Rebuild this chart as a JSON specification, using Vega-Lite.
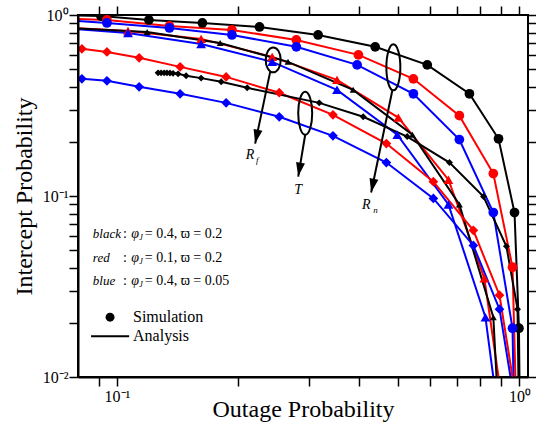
{
  "$schema": "https://vega.github.io/schema/vega-lite/v6.json",
  "width": 450,
  "height": 362,
  "autosize": {"type": "none"},
  "padding": {"left": 78, "top": 15, "right": 8, "bottom": 49},
  "background": "white",
  "config": {"view": {"stroke": "black", "strokeWidth": 2}},
  "datasets": {
    "curves": [
      {"s": "bc", "c": "black", "m": "circle", "sim": 0, "x": 0.08, "y": 0.995},
      {"s": "bc", "c": "black", "m": "circle", "sim": 1, "x": 0.0912, "y": 0.987},
      {"s": "bc", "c": "black", "m": "circle", "sim": 1, "x": 0.120, "y": 0.939},
      {"s": "bc", "c": "black", "m": "circle", "sim": 1, "x": 0.163, "y": 0.904},
      {"s": "bc", "c": "black", "m": "circle", "sim": 1, "x": 0.226, "y": 0.859},
      {"s": "bc", "c": "black", "m": "circle", "sim": 1, "x": 0.316, "y": 0.776},
      {"s": "bc", "c": "black", "m": "circle", "sim": 1, "x": 0.438, "y": 0.667},
      {"s": "bc", "c": "black", "m": "circle", "sim": 1, "x": 0.590, "y": 0.530},
      {"s": "bc", "c": "black", "m": "circle", "sim": 1, "x": 0.751, "y": 0.367},
      {"s": "bc", "c": "black", "m": "circle", "sim": 1, "x": 0.887, "y": 0.207},
      {"s": "bc", "c": "black", "m": "circle", "sim": 1, "x": 0.972, "y": 0.081},
      {"s": "bc", "c": "black", "m": "circle", "sim": 1, "x": 0.997, "y": 0.0186},
      {"s": "bc", "c": "black", "m": "circle", "sim": 0, "x": 1.0, "y": 0.01},

      {"s": "rc", "c": "red", "m": "circle", "sim": 0, "x": 0.08, "y": 0.950},
      {"s": "rc", "c": "red", "m": "circle", "sim": 1, "x": 0.0944, "y": 0.939},
      {"s": "rc", "c": "red", "m": "circle", "sim": 1, "x": 0.135, "y": 0.870},
      {"s": "rc", "c": "red", "m": "circle", "sim": 1, "x": 0.193, "y": 0.827},
      {"s": "rc", "c": "red", "m": "circle", "sim": 1, "x": 0.279, "y": 0.728},
      {"s": "rc", "c": "red", "m": "circle", "sim": 1, "x": 0.398, "y": 0.602},
      {"s": "rc", "c": "red", "m": "circle", "sim": 1, "x": 0.545, "y": 0.444},
      {"s": "rc", "c": "red", "m": "circle", "sim": 1, "x": 0.709, "y": 0.278},
      {"s": "rc", "c": "red", "m": "circle", "sim": 1, "x": 0.861, "y": 0.133},
      {"s": "rc", "c": "red", "m": "circle", "sim": 1, "x": 0.961, "y": 0.0404},
      {"s": "rc", "c": "red", "m": "circle", "sim": 0, "x": 0.977, "y": 0.01},

      {"s": "uc", "c": "blue", "m": "circle", "sim": 0, "x": 0.08, "y": 0.927},
      {"s": "uc", "c": "blue", "m": "circle", "sim": 1, "x": 0.0944, "y": 0.904},
      {"s": "uc", "c": "blue", "m": "circle", "sim": 1, "x": 0.135, "y": 0.848},
      {"s": "uc", "c": "blue", "m": "circle", "sim": 1, "x": 0.193, "y": 0.776},
      {"s": "uc", "c": "blue", "m": "circle", "sim": 1, "x": 0.279, "y": 0.667},
      {"s": "uc", "c": "blue", "m": "circle", "sim": 1, "x": 0.395, "y": 0.530},
      {"s": "uc", "c": "blue", "m": "circle", "sim": 1, "x": 0.545, "y": 0.367},
      {"s": "uc", "c": "blue", "m": "circle", "sim": 1, "x": 0.709, "y": 0.205},
      {"s": "uc", "c": "blue", "m": "circle", "sim": 1, "x": 0.861, "y": 0.081},
      {"s": "uc", "c": "blue", "m": "circle", "sim": 1, "x": 0.961, "y": 0.0186},
      {"s": "uc", "c": "blue", "m": "circle", "sim": 0, "x": 0.966, "y": 0.01},

      {"s": "rt", "c": "red", "m": "triangle", "sim": 0, "x": 0.08, "y": 0.845},
      {"s": "rt", "c": "red", "m": "triangle", "sim": 1, "x": 0.1065, "y": 0.815},
      {"s": "rt", "c": "red", "m": "triangle", "sim": 1, "x": 0.1618, "y": 0.738},
      {"s": "rt", "c": "red", "m": "triangle", "sim": 1, "x": 0.243, "y": 0.587},
      {"s": "rt", "c": "red", "m": "triangle", "sim": 1, "x": 0.352, "y": 0.438},
      {"s": "rt", "c": "red", "m": "triangle", "sim": 1, "x": 0.500, "y": 0.271},
      {"s": "rt", "c": "red", "m": "triangle", "sim": 1, "x": 0.666, "y": 0.123},
      {"s": "rt", "c": "red", "m": "triangle", "sim": 1, "x": 0.818, "y": 0.0351},
      {"s": "rt", "c": "red", "m": "triangle", "sim": 0, "x": 0.887, "y": 0.01},

      {"s": "ut", "c": "blue", "m": "triangle", "sim": 0, "x": 0.08, "y": 0.834},
      {"s": "ut", "c": "blue", "m": "triangle", "sim": 1, "x": 0.1065, "y": 0.796},
      {"s": "ut", "c": "blue", "m": "triangle", "sim": 1, "x": 0.1618, "y": 0.692},
      {"s": "ut", "c": "blue", "m": "triangle", "sim": 1, "x": 0.243, "y": 0.551},
      {"s": "ut", "c": "blue", "m": "triangle", "sim": 1, "x": 0.352, "y": 0.386},
      {"s": "ut", "c": "blue", "m": "triangle", "sim": 1, "x": 0.497, "y": 0.218},
      {"s": "ut", "c": "blue", "m": "triangle", "sim": 1, "x": 0.666, "y": 0.0898},
      {"s": "ut", "c": "blue", "m": "triangle", "sim": 1, "x": 0.823, "y": 0.0214},
      {"s": "ut", "c": "blue", "m": "triangle", "sim": 0, "x": 0.861, "y": 0.01},

      {"s": "bt", "c": "black", "m": "triangle", "sim": 0, "x": 0.08, "y": 0.843},
      {"s": "bt", "c": "black", "m": "triangle", "sim": 1, "x": 0.1188, "y": 0.806},
      {"s": "bt", "c": "black", "m": "triangle", "sim": 1, "x": 0.1804, "y": 0.701},
      {"s": "bt", "c": "black", "m": "triangle", "sim": 1, "x": 0.266, "y": 0.551},
      {"s": "bt", "c": "black", "m": "triangle", "sim": 1, "x": 0.386, "y": 0.386},
      {"s": "bt", "c": "black", "m": "triangle", "sim": 1, "x": 0.542, "y": 0.218},
      {"s": "bt", "c": "black", "m": "triangle", "sim": 1, "x": 0.709, "y": 0.0898},
      {"s": "bt", "c": "black", "m": "triangle", "sim": 1, "x": 0.861, "y": 0.0214},
      {"s": "bt", "c": "black", "m": "triangle", "sim": 0, "x": 0.877, "y": 0.01},

      {"s": "rd", "c": "red", "m": "diamond", "sim": 0, "x": 0.08, "y": 0.654},
      {"s": "rd", "c": "red", "m": "diamond", "sim": 1, "x": 0.0818, "y": 0.650},
      {"s": "rd", "c": "red", "m": "diamond", "sim": 1, "x": 0.0944, "y": 0.625},
      {"s": "rd", "c": "red", "m": "diamond", "sim": 1, "x": 0.1135, "y": 0.580},
      {"s": "rd", "c": "red", "m": "diamond", "sim": 1, "x": 0.1435, "y": 0.517},
      {"s": "rd", "c": "red", "m": "diamond", "sim": 1, "x": 0.1867, "y": 0.455},
      {"s": "rd", "c": "red", "m": "diamond", "sim": 1, "x": 0.253, "y": 0.372},
      {"s": "rd", "c": "red", "m": "diamond", "sim": 1, "x": 0.344, "y": 0.281},
      {"s": "rd", "c": "red", "m": "diamond", "sim": 1, "x": 0.467, "y": 0.195},
      {"s": "rd", "c": "red", "m": "diamond", "sim": 1, "x": 0.611, "y": 0.120},
      {"s": "rd", "c": "red", "m": "diamond", "sim": 1, "x": 0.768, "y": 0.0646},
      {"s": "rd", "c": "red", "m": "diamond", "sim": 1, "x": 0.892, "y": 0.0283},
      {"s": "rd", "c": "red", "m": "diamond", "sim": 0, "x": 0.961, "y": 0.01},

      {"s": "ud", "c": "blue", "m": "diamond", "sim": 0, "x": 0.08, "y": 0.446},
      {"s": "ud", "c": "blue", "m": "diamond", "sim": 1, "x": 0.0818, "y": 0.444},
      {"s": "ud", "c": "blue", "m": "diamond", "sim": 1, "x": 0.0944, "y": 0.433},
      {"s": "ud", "c": "blue", "m": "diamond", "sim": 1, "x": 0.1135, "y": 0.401},
      {"s": "ud", "c": "blue", "m": "diamond", "sim": 1, "x": 0.1435, "y": 0.367},
      {"s": "ud", "c": "blue", "m": "diamond", "sim": 1, "x": 0.1867, "y": 0.327},
      {"s": "ud", "c": "blue", "m": "diamond", "sim": 1, "x": 0.253, "y": 0.274},
      {"s": "ud", "c": "blue", "m": "diamond", "sim": 1, "x": 0.344, "y": 0.215},
      {"s": "ud", "c": "blue", "m": "diamond", "sim": 1, "x": 0.467, "y": 0.153},
      {"s": "ud", "c": "blue", "m": "diamond", "sim": 1, "x": 0.611, "y": 0.0969},
      {"s": "ud", "c": "blue", "m": "diamond", "sim": 1, "x": 0.768, "y": 0.0533},
      {"s": "ud", "c": "blue", "m": "diamond", "sim": 1, "x": 0.892, "y": 0.0237},
      {"s": "ud", "c": "blue", "m": "diamond", "sim": 0, "x": 0.950, "y": 0.01},

      {"s": "bd", "c": "black", "m": "diamond", "sim": 1, "x": 0.1265, "y": 0.479},
      {"s": "bd", "c": "black", "m": "diamond", "sim": 1, "x": 0.1287, "y": 0.479},
      {"s": "bd", "c": "black", "m": "diamond", "sim": 1, "x": 0.1310, "y": 0.479},
      {"s": "bd", "c": "black", "m": "diamond", "sim": 1, "x": 0.1331, "y": 0.479},
      {"s": "bd", "c": "black", "m": "diamond", "sim": 1, "x": 0.1354, "y": 0.478},
      {"s": "bd", "c": "black", "m": "diamond", "sim": 1, "x": 0.1378, "y": 0.476},
      {"s": "bd", "c": "black", "m": "diamond", "sim": 1, "x": 0.1418, "y": 0.473},
      {"s": "bd", "c": "black", "m": "diamond", "sim": 1, "x": 0.1485, "y": 0.462},
      {"s": "bd", "c": "black", "m": "diamond", "sim": 1, "x": 0.1618, "y": 0.448},
      {"s": "bd", "c": "black", "m": "diamond", "sim": 1, "x": 0.1815, "y": 0.428},
      {"s": "bd", "c": "black", "m": "diamond", "sim": 1, "x": 0.2106, "y": 0.396},
      {"s": "bd", "c": "black", "m": "diamond", "sim": 1, "x": 0.318, "y": 0.327},
      {"s": "bd", "c": "black", "m": "diamond", "sim": 1, "x": 0.409, "y": 0.274},
      {"s": "bd", "c": "black", "m": "diamond", "sim": 1, "x": 0.526, "y": 0.213},
      {"s": "bd", "c": "black", "m": "diamond", "sim": 1, "x": 0.670, "y": 0.153},
      {"s": "bd", "c": "black", "m": "diamond", "sim": 1, "x": 0.814, "y": 0.0994},
      {"s": "bd", "c": "black", "m": "diamond", "sim": 1, "x": 0.928, "y": 0.0527},
      {"s": "bd", "c": "black", "m": "diamond", "sim": 1, "x": 0.989, "y": 0.0237},
      {"s": "bd", "c": "black", "m": "diamond", "sim": 0, "x": 0.994, "y": 0.01}
    ],
    "ellipses": [
      {"k": "Rf", "x": 0.2444, "y": 0.565},
      {"k": "T", "x": 0.2935, "y": 0.2866},
      {"k": "Rn", "x": 0.486, "y": 0.5137}
    ],
    "arrows": [
      {"k": "Rf", "x": 0.2402, "y": 0.4853, "x2": 0.2204, "y2": 0.1947},
      {"k": "T", "x": 0.2935, "y": 0.218, "x2": 0.282, "y2": 0.128},
      {"k": "Rn", "x": 0.483, "y": 0.3814, "x2": 0.428, "y2": 0.1045}
    ],
    "bigLabels": [
      {"x": 0.214, "y": 0.1693, "t": "R"},
      {"x": 0.282, "y": 0.1086, "t": "T"},
      {"x": 0.4163, "y": 0.0895, "t": "R"}
    ],
    "subLabels": [
      {"x": 0.2215, "y": 0.1693, "t": "f"},
      {"x": 0.4334, "y": 0.0895, "t": "n"}
    ],
    "italicText": [
      {"x": 0.0871, "y": 0.0614, "t": "black"},
      {"x": 0.0871, "y": 0.0453, "t": "red"},
      {"x": 0.0871, "y": 0.0338, "t": "blue"}
    ],
    "phiText": [
      {"x": 0.1085, "y": 0.0614, "t": "φ"},
      {"x": 0.1085, "y": 0.0453, "t": "φ"},
      {"x": 0.1085, "y": 0.0338, "t": "φ"}
    ],
    "subText": [
      {"x": 0.1135, "y": 0.0614, "t": "J"},
      {"x": 0.1135, "y": 0.0453, "t": "J"},
      {"x": 0.1135, "y": 0.0338, "t": "J"}
    ],
    "plainText": [
      {"x": 0.1035, "y": 0.0614, "t": ":"},
      {"x": 0.1035, "y": 0.0453, "t": ":"},
      {"x": 0.1035, "y": 0.0338, "t": ":"},
      {"x": 0.1172, "y": 0.0614, "t": "= 0.4, ϖ = 0.2"},
      {"x": 0.1172, "y": 0.0453, "t": "= 0.1, ϖ = 0.2"},
      {"x": 0.1172, "y": 0.0338, "t": "= 0.4, ϖ = 0.05"}
    ],
    "legendText": [
      {"x": 0.1096, "y": 0.0214, "t": "Simulation"},
      {"x": 0.1096, "y": 0.0168, "t": "Analysis"}
    ],
    "legendDot": [{"x": 0.0961, "y": 0.0214}],
    "legendLine": [{"x": 0.0862, "x2": 0.1072, "y": 0.0168}]
  },
  "resolve": {
    "axis": {"x": "independent", "y": "independent"},
    "scale": {"shape": "independent", "color": "independent"}
  },
  "layer": [
    {
      "data": {"name": "curves"},
      "mark": {"type": "line", "strokeWidth": 2, "clip": true},
      "encoding": {
        "x": {
          "field": "x", "type": "quantitative",
          "scale": {"type": "log", "domain": [0.08, 1.05], "nice": false},
          "axis": {
            "orient": "bottom", "zindex": 2,
            "values": [0.09, 0.1, 0.2, 0.3, 0.4, 0.5, 0.6, 0.7, 0.8, 0.9, 1],
            "labelExpr": "datum.value == 0.1 ? '10⁻¹' : (datum.value == 1 ? '10⁰' : '')",
            "labelFlush": false, "labelOverlap": false, "labelBound": false,
            "labelFont": "Liberation Serif", "labelFontSize": 16, "labelColor": "black",
            "labelPadding": 2,
            "ticks": true, "tickColor": "black", "tickWidth": 1.5, "tickSize": 9,
            "encode": {"ticks": {"update": {"y2": {"signal": "(datum.value == 0.1 || datum.value == 1) ? -9 : -5"}}}},
            "domainColor": "black", "domainWidth": 2, "grid": false,
            "title": "Outage Probability",
            "titleFont": "Liberation Serif", "titleFontSize": 24, "titleFontWeight": "normal",
            "titleColor": "black", "titlePadding": -7
          }
        },
        "y": {
          "field": "y", "type": "quantitative",
          "scale": {"type": "log", "domain": [0.01, 1], "nice": false},
          "axis": {
            "orient": "left", "zindex": 2,
            "values": [0.01, 0.02, 0.03, 0.04, 0.05, 0.06, 0.07, 0.08, 0.09, 0.1, 0.2, 0.3, 0.4, 0.5, 0.6, 0.7, 0.8, 0.9, 1],
            "labelExpr": "datum.value == 0.01 ? '10⁻²' : (datum.value == 0.1 ? '10⁻¹' : (datum.value == 1 ? '10⁰' : ''))",
            "labelFlush": false, "labelOverlap": false, "labelBound": false,
            "labelFont": "Liberation Serif", "labelFontSize": 16, "labelColor": "black",
            "labelPadding": 1,
            "ticks": true, "tickColor": "black", "tickWidth": 1.5, "tickSize": 9,
            "encode": {"ticks": {"update": {"x2": {"signal": "(datum.value == 0.01 || datum.value == 0.1 || datum.value == 1) ? 9 : 5"}}}},
            "domainColor": "black", "domainWidth": 2, "grid": false,
            "title": "Intercept Probability",
            "titleFont": "Liberation Serif", "titleFontSize": 24, "titleFontWeight": "normal",
            "titleColor": "black", "titlePadding": 6
          }
        },
        "detail": {"field": "s"},
        "color": {"field": "c", "type": "nominal", "scale": {"domain": ["black", "red", "blue"], "range": ["#000000", "#ff0000", "#0000ff"]}, "legend": null}
      }
    },
    {
      "data": {"name": "curves"},
      "transform": [{"filter": "datum.sim == 1 && !(datum.c == 'black' && datum.m != 'circle')"}],
      "mark": {"type": "point", "filled": true, "opacity": 1, "size": 95, "clip": true},
      "encoding": {
        "x": {
          "field": "x", "type": "quantitative",
          "axis": {
            "orient": "top", "zindex": 2,
            "values": [0.09, 0.1, 0.2, 0.3, 0.4, 0.5, 0.6, 0.7, 0.8, 0.9, 1],
            "labels": false, "domain": false, "grid": false, "title": null,
            "ticks": true, "tickColor": "black", "tickWidth": 1.5, "tickSize": 9,
            "encode": {"ticks": {"update": {"y2": {"signal": "(datum.value == 0.1 || datum.value == 1) ? 9 : 5"}}}}
          }
        },
        "y": {
          "field": "y", "type": "quantitative",
          "axis": {
            "orient": "right", "zindex": 2,
            "values": [0.01, 0.02, 0.03, 0.04, 0.05, 0.06, 0.07, 0.08, 0.09, 0.1, 0.2, 0.3, 0.4, 0.5, 0.6, 0.7, 0.8, 0.9, 1],
            "labels": false, "domain": false, "grid": false, "title": null,
            "ticks": true, "tickColor": "black", "tickWidth": 1.5, "tickSize": 9,
            "encode": {"ticks": {"update": {"x2": {"signal": "(datum.value == 0.01 || datum.value == 0.1 || datum.value == 1) ? -9 : -5"}}}}
          }
        },
        "color": {"field": "c", "type": "nominal", "scale": {"domain": ["black", "red", "blue"], "range": ["#000000", "#ff0000", "#0000ff"]}, "legend": null},
        "shape": {"field": "m", "type": "nominal", "scale": {"domain": ["circle", "triangle", "diamond"], "range": ["circle", "triangle-up", "diamond"]}, "legend": null}
      }
    },
    {
      "data": {"name": "curves"},
      "transform": [{"filter": "datum.sim == 1 && datum.c == 'black' && datum.m != 'circle'"}],
      "mark": {"type": "point", "filled": true, "opacity": 1, "size": 48, "color": "black", "clip": true},
      "encoding": {
        "x": {"field": "x", "type": "quantitative", "axis": null},
        "y": {"field": "y", "type": "quantitative", "axis": null},
        "shape": {"field": "m", "type": "nominal", "scale": {"domain": ["triangle", "diamond"], "range": ["triangle-up", "diamond"]}, "legend": null}
      }
    },
    {
      "data": {"name": "ellipses"},
      "mark": {"type": "point", "filled": false, "stroke": "black", "strokeWidth": 2, "opacity": 1, "size": 2116},
      "encoding": {
        "x": {"field": "x", "type": "quantitative", "axis": null},
        "y": {"field": "y", "type": "quantitative", "axis": null},
        "shape": {"field": "k", "type": "nominal", "legend": null, "scale": {"domain": ["Rf", "T", "Rn"], "range": [
          "M 0 -0.543 A 0.326 0.543 0 1 1 0 0.543 A 0.326 0.543 0 1 1 0 -0.543 Z",
          "M 0 -0.935 A 0.304 0.935 0 1 1 0 0.935 A 0.304 0.935 0 1 1 0 -0.935 Z",
          "M 0 -1 A 0.304 1 0 1 1 0 1 A 0.304 1 0 1 1 0 -1 Z"
        ]}}
      }
    },
    {
      "data": {"name": "arrows"},
      "mark": {"type": "rule", "color": "black", "strokeWidth": 2},
      "encoding": {
        "x": {"field": "x", "type": "quantitative", "axis": null},
        "y": {"field": "y", "type": "quantitative", "axis": null},
        "x2": {"field": "x2"},
        "y2": {"field": "y2"}
      }
    },
    {
      "data": {"name": "arrows"},
      "mark": {"type": "point", "filled": true, "color": "black", "opacity": 1, "size": 784},
      "encoding": {
        "x": {"field": "x2", "type": "quantitative", "axis": null},
        "y": {"field": "y2", "type": "quantitative", "axis": null},
        "shape": {"field": "k", "type": "nominal", "legend": null, "scale": {"domain": ["Rf", "T", "Rn"], "range": [
          "M 0 0 L 0.518 -0.915 L -0.110 -1.045 Z",
          "M 0 0 L 0.480 -0.934 L -0.152 -1.038 Z",
          "M 0 0 L 0.516 -0.915 L -0.112 -1.045 Z"
        ]}}
      }
    },
    {
      "data": {"name": "bigLabels"},
      "mark": {"type": "text", "font": "Liberation Serif", "fontStyle": "italic", "fontSize": 14, "align": "center", "baseline": "middle", "color": "black"},
      "encoding": {
        "x": {"field": "x", "type": "quantitative", "axis": null},
        "y": {"field": "y", "type": "quantitative", "axis": null},
        "text": {"field": "t"}
      }
    },
    {
      "data": {"name": "subLabels"},
      "mark": {"type": "text", "font": "Liberation Serif", "fontStyle": "italic", "fontSize": 9, "align": "left", "baseline": "middle", "dy": 5, "color": "black"},
      "encoding": {
        "x": {"field": "x", "type": "quantitative", "axis": null},
        "y": {"field": "y", "type": "quantitative", "axis": null},
        "text": {"field": "t"}
      }
    },
    {
      "data": {"name": "italicText"},
      "mark": {"type": "text", "font": "Liberation Serif", "fontStyle": "italic", "fontSize": 13, "align": "left", "baseline": "middle", "color": "black"},
      "encoding": {
        "x": {"field": "x", "type": "quantitative", "axis": null},
        "y": {"field": "y", "type": "quantitative", "axis": null},
        "text": {"field": "t"}
      }
    },
    {
      "data": {"name": "phiText"},
      "mark": {"type": "text", "font": "Liberation Serif", "fontStyle": "italic", "fontSize": 14, "align": "left", "baseline": "middle", "color": "black"},
      "encoding": {
        "x": {"field": "x", "type": "quantitative", "axis": null},
        "y": {"field": "y", "type": "quantitative", "axis": null},
        "text": {"field": "t"}
      }
    },
    {
      "data": {"name": "subText"},
      "mark": {"type": "text", "font": "Liberation Serif", "fontStyle": "italic", "fontSize": 8, "align": "left", "baseline": "middle", "dy": 4, "color": "black"},
      "encoding": {
        "x": {"field": "x", "type": "quantitative", "axis": null},
        "y": {"field": "y", "type": "quantitative", "axis": null},
        "text": {"field": "t"}
      }
    },
    {
      "data": {"name": "plainText"},
      "mark": {"type": "text", "font": "Liberation Serif", "fontSize": 14, "align": "left", "baseline": "middle", "color": "black"},
      "encoding": {
        "x": {"field": "x", "type": "quantitative", "axis": null},
        "y": {"field": "y", "type": "quantitative", "axis": null},
        "text": {"field": "t"}
      }
    },
    {
      "data": {"name": "legendText"},
      "mark": {"type": "text", "font": "Liberation Serif", "fontSize": 16, "align": "left", "baseline": "middle", "color": "black"},
      "encoding": {
        "x": {"field": "x", "type": "quantitative", "axis": null},
        "y": {"field": "y", "type": "quantitative", "axis": null},
        "text": {"field": "t"}
      }
    },
    {
      "data": {"name": "legendDot"},
      "mark": {"type": "point", "shape": "circle", "filled": true, "color": "black", "opacity": 1, "size": 80},
      "encoding": {
        "x": {"field": "x", "type": "quantitative", "axis": null},
        "y": {"field": "y", "type": "quantitative", "axis": null}
      }
    },
    {
      "data": {"name": "legendLine"},
      "mark": {"type": "rule", "color": "black", "strokeWidth": 2},
      "encoding": {
        "x": {"field": "x", "type": "quantitative", "axis": null},
        "x2": {"field": "x2"},
        "y": {"field": "y", "type": "quantitative", "axis": null}
      }
    }
  ]
}
